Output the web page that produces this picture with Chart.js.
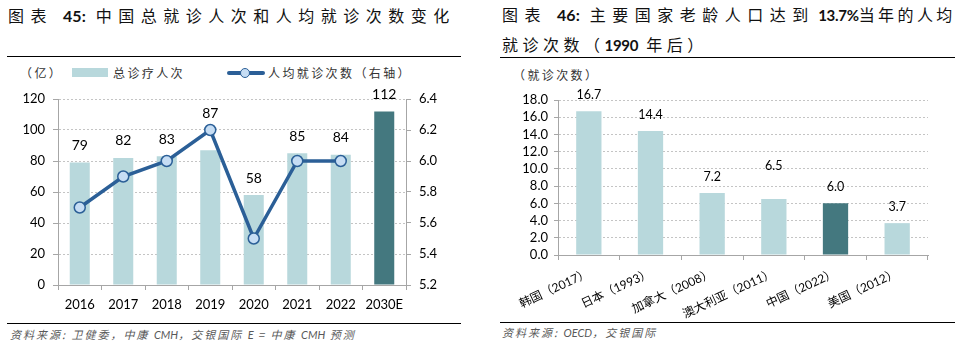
<!DOCTYPE html>
<html>
<head>
<meta charset="utf-8">
<script src="https://cdn.jsdelivr.net/npm/chart.js@4"></script>
<style>
  body { margin: 0; width: 963px; height: 351px; background: #fff; position: relative; overflow: hidden;
         font-family: 'Noto Sans CJK SC', sans-serif; }
  .abs { position: absolute; white-space: nowrap; line-height: 1; }
  .title { font-size: 16px; letter-spacing: 6.5px; color: #111; }
  .title b { font-family: Lato, 'Noto Sans CJK SC', sans-serif; font-size: 16px; font-weight: bold; letter-spacing: 0; }
  .title b.n { font-size: 15px; letter-spacing: -0.3px; }
  .rule { position: absolute; height: 0; border-top: 1.5px solid #000; }
  .src { font-size: 11px; color: #595959; font-style: italic; letter-spacing: 2px; }
  .src i { font-family: Lato, sans-serif; letter-spacing: 0; }
  .leg { font-size: 12px; letter-spacing: 2.4px; color: #333; }
  canvas { position: absolute; }
</style>
</head>
<body>
<div class="abs title" style="left:8px;top:7px">图表 <b>45:</b> 中国总就诊人次和人均就诊次数变化</div>
<div class="rule" style="left:7px;width:454px;top:56px"></div>
<div class="abs leg" style="left:20px;top:67px">（亿）</div>
<div class="abs" style="left:72px;top:68px;width:36px;height:9px;background:#B8D8DC"></div>
<div class="abs leg" style="left:113px;top:67px">总诊疗人次</div>
<div class="abs" style="left:227px;top:71px;width:38px;height:4px;background:#2B5F97;border-radius:2px"></div>
<div class="abs" style="left:240px;top:68px;width:8px;height:8px;background:#C6DDF4;border:1.5px solid #2B5F97;border-radius:50%"></div>
<div class="abs leg" style="left:268px;top:67px">人均就诊次数（右轴）</div>
<canvas id="left" width="470" height="242" style="left:0;top:80px"></canvas>
<div class="rule" style="left:7px;width:454px;top:323px"></div>
<div class="abs src" style="left:10px;top:329px">资料来源: 卫健委，中康 <i>CMH</i>，交银国际 <i>E</i> = 中康 <i>CMH</i> 预测</div>

<div class="abs title" style="left:502px;top:6px">图表 <b>46:</b> 主要国家老龄人口达到<b class="n"> 13.7%</b><span style="letter-spacing:3.4px">当年的人均</span></div>
<div class="abs title" style="left:502px;top:36px;letter-spacing:4.5px">就诊次数（<b class="n">1990</b> 年后）</div>
<div class="rule" style="left:500px;width:455px;top:57px"></div>
<div class="abs leg" style="left:513px;top:69px">（就诊次数）</div>
<canvas id="right" width="473" height="242" style="left:490px;top:80px"></canvas>
<div class="rule" style="left:500px;width:455px;top:322px"></div>
<div class="abs src" style="left:502px;top:327px">资料来源: <i>OECD</i>，交银国际</div>

<script>
// chart 45
const years = ['2016', '2017', '2018', '2019', '2020', '2021', '2022', '2030E']
const totalVisits = [79, 82, 83, 87, 58, 85, 84, 112]
const visitsPerPerson = [5.7, 5.9, 6.0, 6.2, 5.5, 6.0, 6.0, null]

// chart 46
const countries = ['韩国（2017）', '日本（1993）', '加拿大（2008）', '澳大利亚（2011）', '中国（2022）', '美国（2012）']
const countryVisits = [16.7, 14.4, 7.2, 6.5, 6.0, 3.7]

const LIGHT = '#B8D8DC'
const DARK = '#44787F'
const BLUE = '#2B5F97'
const AXIS = '#A6A6A6'
const GRID = '#C4C4C4'
const NUM_FONT = 'Lato'

// value labels above the bars; optionally kept clear of the line's markers
const barLabels = {
  id: 'barLabels',
  afterDatasetsDraw(chart, args, opts) {
    const { ctx } = chart
    const bars = chart.getDatasetMeta(0)
    const line = opts.avoidLine ? chart.getDatasetMeta(1) : null
    ctx.save()
    ctx.font = opts.font
    ctx.fillStyle = '#000'
    ctx.textAlign = 'center'
    ctx.textBaseline = 'middle'
    bars.data.forEach((bar, i) => {
      let top = bar.y
      const pt = line && line.data[i]
      if (pt && !pt.skip && Number.isFinite(pt.y)) top = Math.min(top, pt.y)
      const lift = opts.gap + ((opts.extraLift || {})[i] || 0)
      ctx.fillText(opts.format(chart.data.datasets[0].data[i]), bar.x, top - lift)
    })
    ctx.restore()
  },
}

const tickFont = { family: NUM_FONT, size: 13 }

new Chart(document.getElementById('left'), {
  type: 'bar',
  data: {
    labels: years,
    datasets: [
      {
        type: 'bar',
        data: totalVisits,
        backgroundColor: years.map((y) => (y.endsWith('E') ? DARK : LIGHT)),
        barPercentage: 0.46,
        categoryPercentage: 1,
        yAxisID: 'y',
        order: 2,
      },
      {
        type: 'line',
        data: visitsPerPerson,
        borderColor: BLUE,
        borderWidth: 3.5,
        pointRadius: 5.5,
        pointBackgroundColor: '#C6DDF4',
        pointBorderColor: BLUE,
        pointBorderWidth: 1.5,
        yAxisID: 'y1',
        order: 1,
      },
    ],
  },
  options: {
    responsive: false,
    animation: false,
    layout: { padding: { top: 19 } },
    plugins: {
      legend: { display: false },
      tooltip: { enabled: false },
      barLabels: { font: `14px ${NUM_FONT}`, gap: 17, avoidLine: true, format: (v) => String(v) },
    },
    scales: {
      x: {
        grid: { offset: true, drawOnChartArea: false, tickLength: 5, tickColor: AXIS },
        border: { color: AXIS },
        ticks: { font: tickFont, color: '#000', padding: 7, minRotation: 0, maxRotation: 0, autoSkip: false },
        afterFit: (s) => { s.height = 37 },
      },
      y: {
        min: 0,
        max: 120,
        ticks: { stepSize: 20, font: tickFont, color: '#000', padding: 8, autoSkip: false },
        grid: { color: GRID, tickLength: 5, tickColor: AXIS },
        border: { color: AXIS, dash: [2, 2] },
        afterFit: (s) => { s.width = 58 },
      },
      y1: {
        position: 'right',
        min: 5.2,
        max: 6.4,
        ticks: { stepSize: 0.2, font: tickFont, color: '#000', padding: 8, autoSkip: false, callback: (v) => v.toFixed(1) },
        grid: { drawOnChartArea: false, tickLength: 5, tickColor: AXIS },
        border: { color: AXIS },
        afterFit: (s) => { s.width = 64 },
      },
    },
  },
  plugins: [barLabels],
})

new Chart(document.getElementById('right'), {
  type: 'bar',
  data: {
    labels: countries,
    datasets: [
      {
        data: countryVisits,
        backgroundColor: countries.map((c) => (c.startsWith('中国') ? DARK : LIGHT)),
        barPercentage: 0.41,
        categoryPercentage: 1,
      },
    ],
  },
  options: {
    responsive: false,
    animation: false,
    layout: { padding: { top: 20, right: 35 } },
    plugins: {
      legend: { display: false },
      tooltip: { enabled: false },
      barLabels: { font: `12.5px ${NUM_FONT}`, gap: 16, extraLift: { 3: 17 }, format: (v) => v.toFixed(1) },
    },
    scales: {
      x: {
        grid: { offset: true, drawOnChartArea: false, tickLength: 5, tickColor: AXIS },
        border: { color: AXIS },
        ticks: {
          font: { family: "Lato, 'Noto Sans CJK SC'", size: 12 },
          color: '#000',
          padding: 6,
          minRotation: 25,
          maxRotation: 25,
          autoSkip: false,
        },
        afterFit: (s) => { s.height = 67 },
      },
      y: {
        min: 0,
        max: 18,
        ticks: { stepSize: 2, font: tickFont, color: '#000', padding: 6, autoSkip: false, callback: (v) => v.toFixed(1) },
        grid: { color: GRID, tickLength: 4, tickColor: AXIS },
        border: { color: AXIS, dash: [2, 2] },
        afterFit: (s) => { s.width = 68 },
      },
    },
  },
  plugins: [barLabels],
})
</script>
</body>
</html>
